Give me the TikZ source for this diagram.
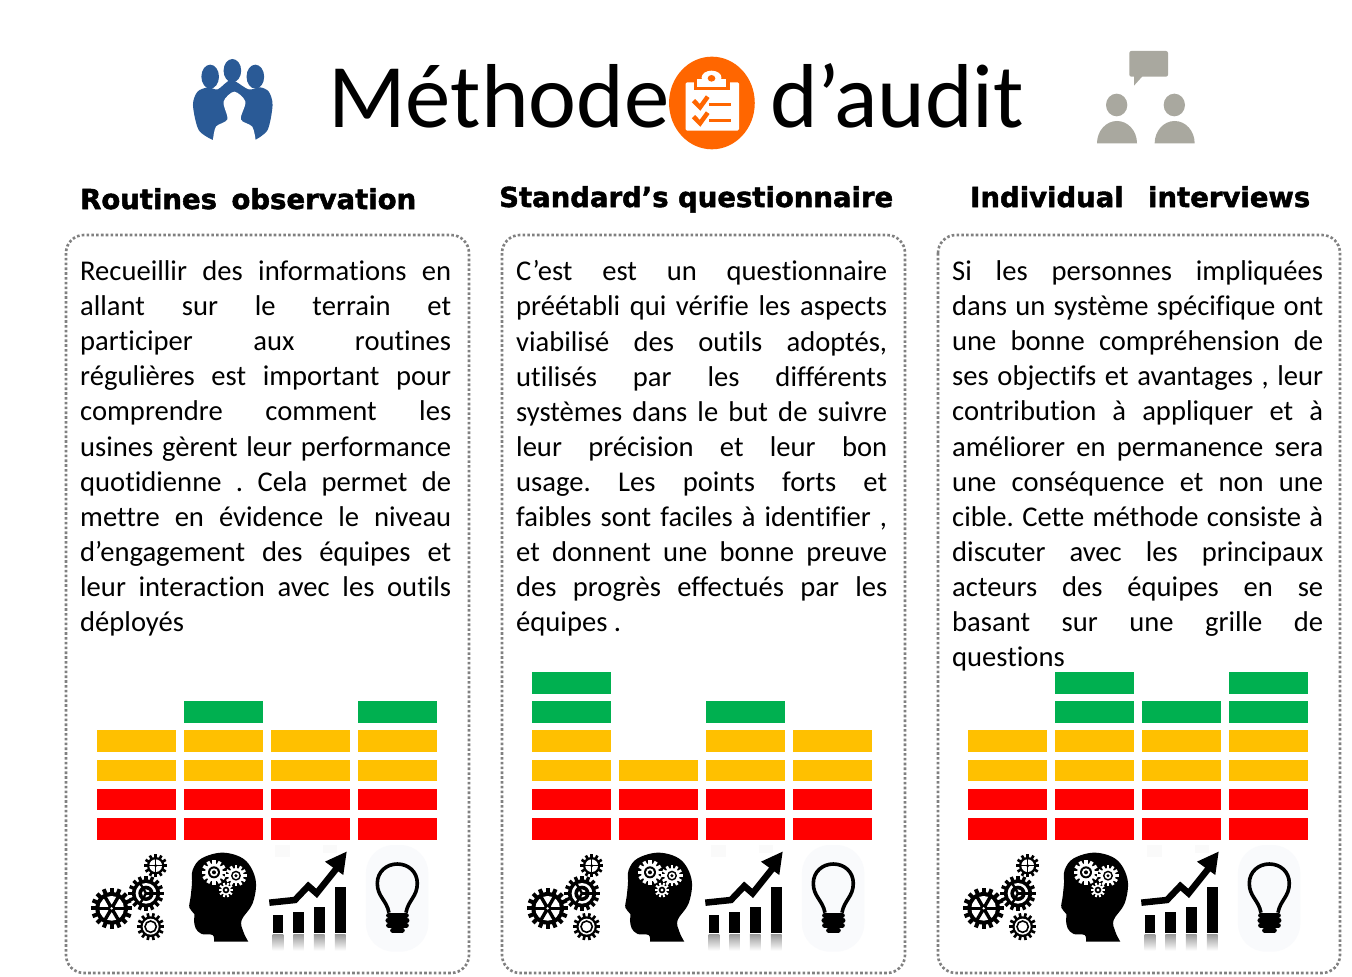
\documentclass[tikz,border=0pt]{standalone}
\usepackage{fontspec}
\setmainfont{Carlito}[Ligatures={NoCommon}]
\newfontfamily\titlefont{DejaVu Sans}[FakeBold=1.8]
\newlength{\colw}\setlength{\colw}{371pt}
\newcommand\jl[1]{\makebox[\colw][s]{\frenchspacing\spaceskip=.17em plus 1fil minus .08em\relax #1}\\}
\definecolor{barR}{HTML}{FF0000}
\definecolor{barY}{HTML}{FFC000}
\definecolor{barG}{HTML}{00B050}
\definecolor{orangeA}{HTML}{FF6600}
\definecolor{blueA}{HTML}{2A5A96}
\definecolor{greyA}{HTML}{A9A89F}
\definecolor{bulbbg}{HTML}{F9FAFC}
\tikzset{
  panel/.style={draw=black!50,line width=2.6pt,dash pattern=on 2.6pt off 2.2pt,rounded corners=18pt},
  body/.style={anchor=north west,inner sep=0pt,align=left,font=\fontsize{28.6}{35.1}\selectfont},
  head/.style={anchor=base west,inner sep=0pt,font=\titlefont\bfseries\fontsize{27.5}{30}\selectfont},
  maintitle/.style={anchor=base west,inner sep=0pt,font=\fontsize{90.8}{100}\selectfont},
}
% cx cy teeth root outer colour toothwidth
\newcommand\gearbase[7]{%
  \fill[#6] (#1,#2) circle (#4);
  \foreach \k in {1,...,#3}{\fill[#6,shift={(#1,#2)},rotate=\k*360/#3] (#4-2,-#7) rectangle (#5,#7);}
}
\newcommand\spokes[6]{% cx cy n radius colour width
  \foreach \k in {1,...,#3}{\draw[#5,line width=#6,shift={(#1,#2)},rotate=\k*360/#3] (0,0) -- (#4,0);}
}
\newcommand\iconset[1]{%
\begin{scope}[shift={(60+#1,840)},x=.3333pt,y=-.3333pt]
  % gears
  \gearbase{155}{205}{16}{49}{62}{black}{6}
  \fill[white] (155,205) circle (37);
  \spokes{155}{205}{6}{40}{black}{3.4pt}
  \fill[black] (155,205) circle (12); \fill[white] (155,205) circle (4);
  \gearbase{258}{160}{16}{42}{53}{black}{5}
  \fill[white] (258,160) circle (31);
  \fill[black] (258,160) circle (23); \fill[white] (258,160) circle (12);
  \spokes{258}{160}{3}{33}{black}{2.4pt}
  \gearbase{287}{77}{12}{26}{35}{black}{4}
  \fill[white] (287,77) circle (19);
  \spokes{287}{77}{4}{20}{black}{1.2pt}
  \fill[black] (287,77) circle (5);
  \gearbase{272}{260}{14}{31}{41}{black}{4}
  \fill[white] (272,260) circle (24);
  \draw[black,line width=1.6pt] (272,260) circle (17);
  \fill[white] (272,260) circle (9);
  % head
  \fill[black] plot[smooth,tension=.6] coordinates {(462,305) (458,285) (425,282) (407,265) (402,240) (403,222) (388,203) (392,170) (396,130) (398,90) (425,55) (490,38) (555,60) (587,120) (578,190) (545,240) (550,275) (565,305)} -- cycle;
  \gearbase{462}{97}{12}{27}{37}{white}{5}
  \fill[black] (462,97) circle (18); \fill[white] (462,97) circle (12); \fill[black] (462,97) circle (6);
  \gearbase{528}{107}{12}{23}{32}{white}{4}
  \fill[black] (528,107) circle (15); \fill[white] (528,107) circle (10); \fill[black] (528,107) circle (5);
  \gearbase{498}{150}{10}{15}{22}{white}{3}
  \fill[black] (498,150) circle (10); \fill[white] (498,150) circle (5);
  % chart
  \fill[black!2] (645,15) rectangle (690,50);
  \fill[black!2] (790,15) rectangle (830,40);
  \foreach \bx/\by in {638/226,700/215,762/200,825/140}{
    \fill[black] (\bx,\by) rectangle (\bx+32,278);
    \shade[top color=black!40,bottom color=white] (\bx,282) rectangle (\bx+32,332);
  }
  \draw[black,line width=6.5pt] (628,188) -- (705,180) -- (745,138) -- (770,160) -- (830,85);
  \fill[black] (860,35) -- (795,65) -- (850,105) -- cycle;
  % bulb
  \fill[bulbbg,rounded corners=28pt] (918,15) rectangle (1105,335);
  \draw[black,line width=3.6pt] (987,218) .. controls (980,180) and (952,170) .. (952,130) .. controls (952,95) and (980,72) .. (1012,72) .. controls (1045,72) and (1072,95) .. (1072,130) .. controls (1072,170) and (1045,180) .. (1038,218);
  \foreach \yy/\xa/\xb in {226/986/1039,241/984/1041,256/986/1039,270/998/1027}{
    \draw[black,line width=5pt,line cap=round] (\xa,\yy) -- (\xb,\yy);
  }
\end{scope}
}
\newcommand\onebar[3]{% x offset, column index, rows: list of row/colour
  \foreach \rr/\cc in {#3}{
    \fill[\cc] ({97+#1+87*#2},{818-29.2*\rr}) rectangle ++(79,21.5);
  }
}
\begin{document}
\begin{tikzpicture}[x=1pt,y=-1pt]
\useasboundingbox (0,0) rectangle (1352,977);
\fill[white] (0,0) rectangle (1352,977);

% blue people
\begin{scope}[shift={(170,30)},x=.3827pt,y=-.3333pt]
  \fill[blueA] (105,140) ellipse (23 and 36);
  \fill[blueA] (163,122) ellipse (23 and 35);
  \fill[blueA] (223,140) ellipse (23 and 36);
  \fill[blueA] plot[smooth,tension=.5] coordinates {(112,330) (75,300) (60,225) (72,185) (100,172) (125,178) (160,150) (205,178) (235,172) (258,185) (268,225) (255,300) (222,330)} -- cycle;
  \fill[white] plot[smooth,tension=.5] coordinates {(112,332) (120,290) (150,268) (140,215) (168,185) (197,215) (185,268) (215,290) (224,332)} -- cycle;
\end{scope}

% orange clipboard
\begin{scope}[shift={(170,30)},x=.3827pt,y=-.3333pt]
  \fill[orangeA] (1416,219) ellipse (112 and 139);
  \fill[white,rounded corners=1.5pt] (1347,157) rectangle (1487,302);
  \fill[orangeA] (1368,150) rectangle (1462,180);
  \fill[white] (1378,148) rectangle (1453,170);
  \fill[white] (1415,143) ellipse (26 and 21);
  \fill[orangeA] (1415,145) circle (10);
  \draw[orangeA,line width=4.5pt] (1368,212) -- (1385,232) -- (1405,200);
  \draw[orangeA,line width=4.5pt] (1368,260) -- (1385,280) -- (1405,248);
  \draw[orangeA,line width=3.5pt] (1408,224) -- (1466,224);
  \draw[orangeA,line width=3.5pt] (1408,271) -- (1466,271);
\end{scope}

% grey people
\begin{scope}[shift={(1070,30)},x=.3333pt,y=-.3333pt]
  \fill[greyA,rounded corners=2pt] (178,63) rectangle (294,140);
  \fill[greyA] (192,138) -- (192,167) -- (218,138) -- cycle;
  \fill[greyA] (140,225) ellipse (32 and 34);
  \fill[greyA] (313,225) ellipse (32 and 34);
  \fill[greyA] (81,340) arc[start angle=180,end angle=360,x radius=60,y radius=67] -- cycle;
  \fill[greyA] (254,340) arc[start angle=180,end angle=360,x radius=60,y radius=67] -- cycle;
\end{scope}

% title
\node[maintitle] (titleA) at (328,127) {Méthode};
\node[maintitle] (titleB) at (770,127) {d’audit};

% headings
\node[head] (h1) at (80,209) {\makebox[336pt][s]{Routines observation}};
\node[head] (h2) at (499,207) {\makebox[394pt][s]{Standard’s questionnaire}};
\node[head] (h3) at (970,207) {\makebox[340pt][s]{Individual\ \ interviews}};

% panels
\draw[panel] (66,235) rectangle (469,973);
\draw[panel] (502,235) rectangle (905,973);
\draw[panel] (938,235) rectangle (1340,973);

% text
\node[body] (t1) at (80,260.5) {%
\jl{Recueillir des informations en}
\jl{allant sur le terrain et}
\jl{participer aux routines}
\jl{régulières est important pour}
\jl{comprendre comment les}
\jl{usines gèrent leur performance}
\jl{quotidienne . Cela permet de}
\jl{mettre en évidence le niveau}
\jl{d\symbol{39}engagement des équipes et}
\jl{leur interaction avec les outils}
déployés};
\node[body] (t2) at (516,260.5) {%
\jl{C’est est un questionnaire}
\jl{préétabli qui vérifie les aspects}
\jl{viabilisé des outils adoptés,}
\jl{utilisés par les différents}
\jl{systèmes dans le but de suivre}
\jl{leur précision et leur bon}
\jl{usage. Les points forts et}
\jl{faibles sont faciles à identifier ,}
\jl{et donnent une bonne preuve}
\jl{des progrès effectués par les}
équipes .};
\node[body] (t3) at (952,260.5) {%
\jl{Si les personnes impliquées}
\jl{dans un système spécifique ont}
\jl{une bonne compréhension de}
\jl{ses objectifs et avantages , leur}
\jl{contribution à appliquer et à}
\jl{améliorer en permanence sera}
\jl{une conséquence et non une}
\jl{cible. Cette méthode consiste à}
\jl{discuter avec les principaux}
\jl{acteurs des équipes en se}
\jl{basant sur une grille de}
questions};

% bars
\onebar{0}{0}{0/barR,1/barR,2/barY,3/barY}
\onebar{0}{1}{0/barR,1/barR,2/barY,3/barY,4/barG}
\onebar{0}{2}{0/barR,1/barR,2/barY,3/barY}
\onebar{0}{3}{0/barR,1/barR,2/barY,3/barY,4/barG}
\onebar{435}{0}{0/barR,1/barR,2/barY,3/barY,4/barG,5/barG}
\onebar{435}{1}{0/barR,1/barR,2/barY}
\onebar{435}{2}{0/barR,1/barR,2/barY,3/barY,4/barG}
\onebar{435}{3}{0/barR,1/barR,2/barY,3/barY}
\onebar{871}{0}{0/barR,1/barR,2/barY,3/barY}
\onebar{871}{1}{0/barR,1/barR,2/barY,3/barY,4/barG,5/barG}
\onebar{871}{2}{0/barR,1/barR,2/barY,3/barY,4/barG}
\onebar{871}{3}{0/barR,1/barR,2/barY,3/barY,4/barG,5/barG}

% icons
\iconset{0}
\iconset{436}
\iconset{872}
\end{tikzpicture}
\end{document}
